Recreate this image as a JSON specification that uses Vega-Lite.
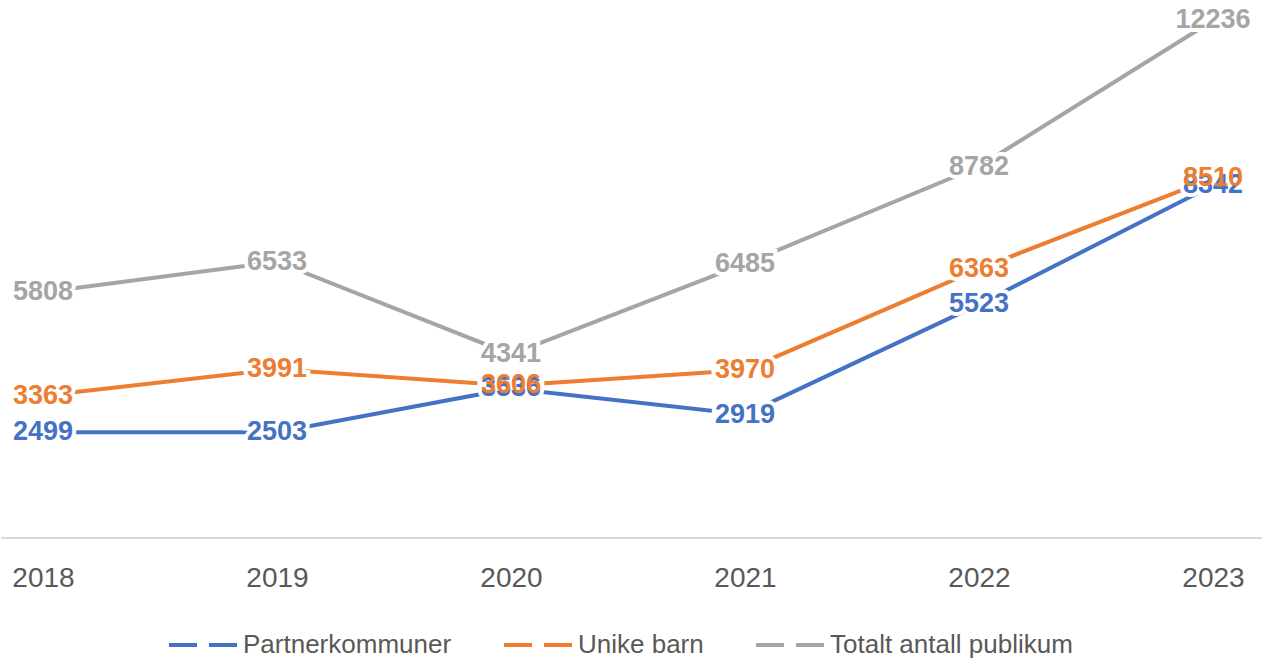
{
  "$schema": "https://vega.github.io/schema/vega-lite/v6.json",
  "width": 1262,
  "height": 538,
  "autosize": {"type": "pad"},
  "padding": 0,
  "background": "white",
  "config": {"view": {"stroke": null}, "font": "Liberation Sans"},
  "data": {"values": [
    {"year": "2018", "series": "Partnerkommuner", "value": 2499},
    {"year": "2019", "series": "Partnerkommuner", "value": 2503},
    {"year": "2020", "series": "Partnerkommuner", "value": 3536},
    {"year": "2021", "series": "Partnerkommuner", "value": 2919},
    {"year": "2022", "series": "Partnerkommuner", "value": 5523},
    {"year": "2023", "series": "Partnerkommuner", "value": 8342},
    {"year": "2018", "series": "Unike barn", "value": 3363},
    {"year": "2019", "series": "Unike barn", "value": 3991},
    {"year": "2020", "series": "Unike barn", "value": 3606},
    {"year": "2021", "series": "Unike barn", "value": 3970},
    {"year": "2022", "series": "Unike barn", "value": 6363},
    {"year": "2023", "series": "Unike barn", "value": 8510},
    {"year": "2018", "series": "Totalt antall publikum", "value": 5808},
    {"year": "2019", "series": "Totalt antall publikum", "value": 6533},
    {"year": "2020", "series": "Totalt antall publikum", "value": 4341},
    {"year": "2021", "series": "Totalt antall publikum", "value": 6485},
    {"year": "2022", "series": "Totalt antall publikum", "value": 8782},
    {"year": "2023", "series": "Totalt antall publikum", "value": 12236}
  ]},
  "encoding": {
    "x": {"field": "year", "type": "ordinal", "scale": {"type": "point", "range": [42, 1212], "padding": 0},
      "axis": {"title": null, "domain": false, "ticks": false, "labelAngle": 0, "labelFontSize": 28, "labelColor": "#595959", "labelPadding": 26, "labelFont": "Liberation Sans"}},
    "y": {"field": "value", "type": "quantitative", "scale": {"domain": [0, 12720], "nice": false}, "axis": null}
  },
  "layer": [
    {
      "mark": {"type": "rule", "color": "#D9D9D9", "strokeWidth": 2},
      "encoding": {"x": null, "y": {"datum": 0}}
    },
    {
      "mark": {"type": "line", "strokeWidth": 4},
      "encoding": {
        "color": {"field": "series", "type": "nominal", "sort": ["Partnerkommuner", "Unike barn", "Totalt antall publikum"],
          "scale": {"domain": ["Partnerkommuner", "Unike barn", "Totalt antall publikum"], "range": ["#4472C4", "#ED7D31", "#A5A5A5"]},
          "legend": {"title": null, "orient": "none", "legendX": 166, "legendY": 609, "direction": "horizontal",
            "symbolType": "stroke", "symbolSize": 4624, "symbolStrokeWidth": 4, "symbolDash": [28, 12],
            "labelFontSize": 26, "labelColor": "#595959", "labelFont": "Liberation Sans", "labelLimit": 500, "columnPadding": 44, "labelOffset": 4}}
      }
    },
    {
      "mark": {"type": "text", "fontSize": 27, "fontWeight": "bold", "baseline": "middle", "align": "center", "fill": "white", "stroke": "white", "strokeWidth": 8},
      "encoding": {"text": {"field": "value", "type": "quantitative", "format": "d"}}
    },
    {
      "mark": {"type": "text", "fontSize": 27, "fontWeight": "bold", "baseline": "middle", "align": "center"},
      "encoding": {
        "text": {"field": "value", "type": "quantitative", "format": "d"},
        "color": {"field": "series", "type": "nominal", "legend": null}
      }
    }
  ]
}
